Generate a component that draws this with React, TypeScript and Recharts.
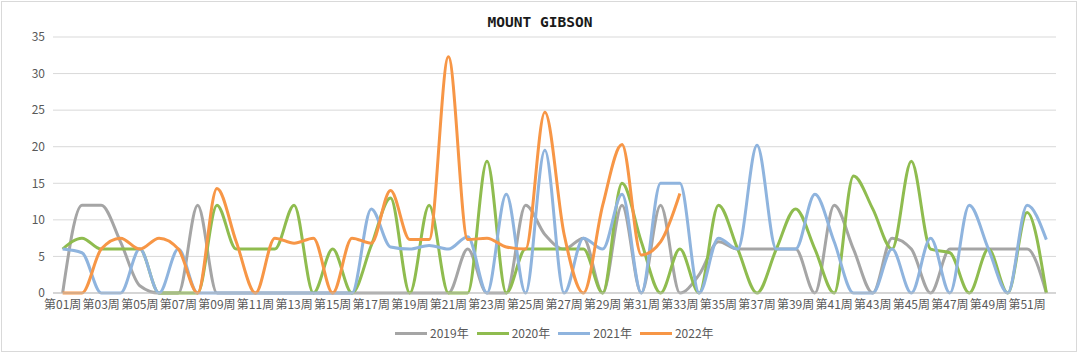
import { LineChart, Line, XAxis, YAxis, CartesianGrid } from 'recharts';

// 周次标签 第01周 ... 第52周
const weekLabels = Array.from({ length: 52 }, (_, i) => `第${String(i + 1).padStart(2, '0')}周`);

const s2019 = [0, 12, 12, 7, 1, 0, 0, 12, 0, 0, 0, 0, 0, 0, 0, 0, 0, 0, 0, 0, 0, 6, 0, 0, 12, 8, 6, 7.5, 0, 12, 0, 12, 0, 2.5, 7, 6, 6, 6, 6, 0, 12, 6, 0, 7.5, 6, 0, 6, 6, 6, 6, 6, 0];
const s2020 = [6, 7.5, 6, 6, 6, 0, 0, 0, 12, 6, 6, 6, 12, 0, 6, 0, 6.5, 13, 0, 12, 0, 0, 18, 0, 6, 6, 6, 6, 0, 15, 7, 0, 6, 0, 12, 6, 0, 6, 11.5, 6, 0, 16, 11.5, 6, 18, 6, 5.5, 0, 6, 0, 11, 0];
const s2021 = [6, 5.5, 0, 0, 6, 0, 6, 0, 0, 0, 0, 0, 0, 0, 0, 0, 11.5, 6.3, 6, 6.5, 6, 7.7, 0, 13.5, 0, 19.5, 0, 7.5, 6, 13.5, 0, 15, 15, 0, 7.5, 6, 20.2, 6, 6, 13.5, 7, 0, 0, 6, 0, 7.5, 0, 12, 6, 0, 12, 7.3];
const s2022 = [0, 0, 6, 7.5, 6, 7.5, 6, 0, 14.3, 7, 0, 7.5, 6.8, 7.5, 0, 7.5, 6.8, 14, 7.3, 7.3, 32.3, 7.3, 7.5, 6.3, 6, 24.7, 8, 0, 12, 20.3, 5.2, 7, 13.6];

const yTicks = [0, 5, 10, 15, 20, 25, 30, 35];
const labelWeeks = [1, 3, 5, 7, 9, 11, 13, 15, 17, 19, 21, 23, 25, 27, 29, 31, 33, 35, 37, 39, 41, 43, 45, 47, 49, 51];
const bandEdges = Array.from({ length: 53 }, (_, i) => i + 0.5);

const series = [
  { key: 'y2019', name: '2019年', color: '#a5a5a5' },
  { key: 'y2020', name: '2020年', color: '#8fbc4f' },
  { key: 'y2021', name: '2021年', color: '#8fb4de' },
  { key: 'y2022', name: '2022年', color: '#f79646' },
];

const data = weekLabels.map((label, i) => ({
  week: i + 1,
  label,
  y2019: s2019[i],
  y2020: s2020[i],
  y2021: s2021[i],
  y2022: s2022[i] ?? null,
}));

const font = '"Noto Sans CJK SC", "Noto Sans", sans-serif';

export default function App() {
  return (
    <div style={{ position: 'absolute', left: 0, top: 0, width: 1080, height: 354, background: '#fff', fontFamily: font }}>
      <div
        style={{
          position: 'absolute',
          left: 1,
          top: 1,
          width: 1076,
          height: 351,
          border: '1px solid #d9d9d9',
          boxSizing: 'border-box',
        }}
      />
      <div
        style={{
          position: 'absolute',
          left: 0,
          top: 12,
          width: 1080,
          textAlign: 'center',
          fontFamily: '"DejaVu Sans Mono", monospace',
          fontWeight: 'bold',
          fontSize: 14.5,
          lineHeight: '20px',
          color: '#1a1a1a',
        }}
      >
        MOUNT GIBSON
      </div>
      <div style={{ position: 'absolute', left: 0, top: 0 }}>
        <LineChart width={1080} height={354} data={data} margin={{ top: 37, right: 24, left: 0, bottom: 31 }}>
          <CartesianGrid horizontal vertical={false} stroke="#d9d9d9" />
          <XAxis
            xAxisId="edges"
            type="number"
            domain={[0.5, 52.5]}
            allowDataOverflow
            ticks={bandEdges}
            interval={0}
            height={0}
            axisLine={false}
            tickLine={{ stroke: '#bfbfbf' }}
            tickSize={4}
            tickFormatter={() => ''}
          />
          <XAxis
            xAxisId="w"
            type="number"
            dataKey="week"
            domain={[0.5, 52.5]}
            allowDataOverflow
            ticks={labelWeeks}
            interval={0}
            height={30}
            tickLine={false}
            tickSize={4}
            tickMargin={3}
            axisLine={{ stroke: '#bfbfbf' }}
            tickFormatter={(v: number) => weekLabels[v - 1]}
            tick={{ fill: '#595959', fontSize: 12, fontFamily: font }}
          />
          <YAxis
            width={53}
            domain={[0, 35]}
            ticks={yTicks}
            interval={0}
            axisLine={false}
            tickLine={false}
            tick={{ fill: '#595959', fontSize: 12, fontFamily: font }}
          />
          {series.map((s) => (
            <Line
              key={s.key}
              xAxisId="w"
              dataKey={s.key}
              name={s.name}
              type="monotone"
              stroke={s.color}
              strokeWidth={3}
              dot={false}
              activeDot={false}
              isAnimationActive={false}
            />
          ))}
        </LineChart>
      </div>
      <div
        style={{
          position: 'absolute',
          left: 395,
          top: 325,
          display: 'flex',
          alignItems: 'center',
          fontSize: 12,
          color: '#595959',
          lineHeight: '16px',
        }}
      >
        {series.map((s) => (
          <div key={s.key} style={{ display: 'flex', alignItems: 'center', marginRight: 8 }}>
            <div style={{ width: 32, height: 3, background: s.color, marginRight: 3 }} />
            <span>{s.name}</span>
          </div>
        ))}
      </div>
    </div>
  );
}
